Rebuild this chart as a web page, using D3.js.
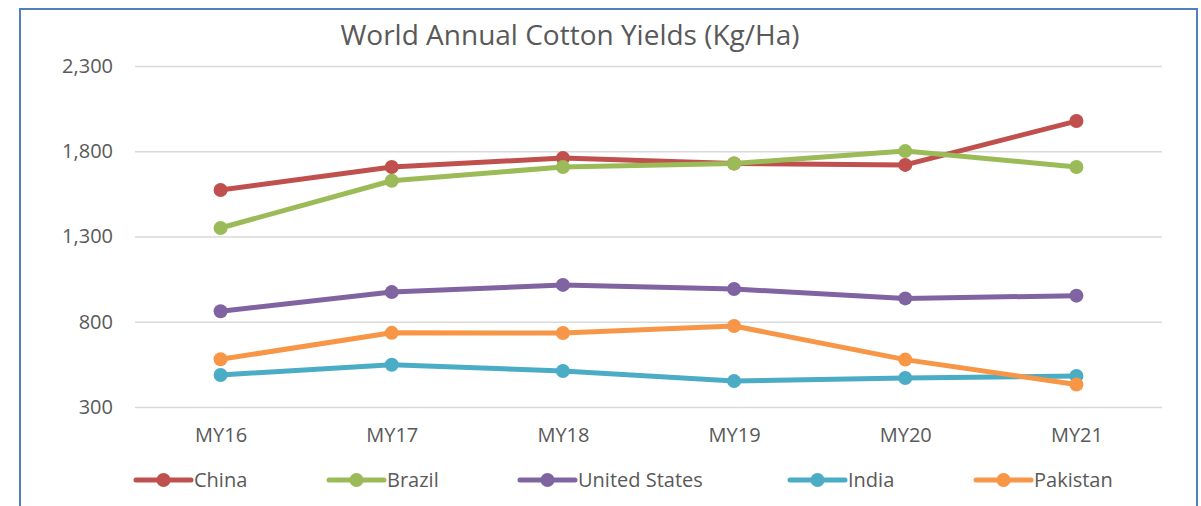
<!DOCTYPE html>
<html>
<head>
<meta charset="utf-8">
<script src="https://cdn.jsdelivr.net/npm/d3@7"></script>
<style>
  html, body { margin: 0; padding: 0; background: #fff; }
  svg { display: block; font-family: "Open Sans", "Noto Sans", sans-serif; }
</style>
</head>
<body>
<svg id="chart" width="1201" height="506"></svg>
<script>
// Marketing years on the x axis
const years = ["MY16", "MY17", "MY18", "MY19", "MY20", "MY21"];

// Cotton yield per country, kg per hectare
const china    = [1573, 1708, 1760, 1728, 1720, 1977];
const brazil   = [1350, 1627, 1708, 1728, 1801, 1708];
const usa      = [ 862,  974, 1016,  992,  937,  953];
const india    = [ 488,  548,  511,  452,  470,  482];
const pakistan = [ 580,  735,  734,  775,  578,  432];

const seriesNames  = ["China", "Brazil", "United States", "India", "Pakistan"];
const seriesColors = ["#C0504D", "#9BBB59", "#8064A2", "#4BACC6", "#F79646"];
const seriesValues = [china, brazil, usa, india, pakistan];

const yTicks = [300, 800, 1300, 1800, 2300];

const svg = d3.select("#chart");

// Chart frame
svg.append("rect")
  .attr("x", 20).attr("y", 9)
  .attr("width", 1177).attr("height", 520)
  .attr("fill", "none")
  .attr("stroke", "#4F81BD")
  .attr("stroke-width", 2);

const plot = { left: 135, right: 1162, top: 66, bottom: 407 };

const x = d3.scalePoint()
  .domain(years)
  .range([plot.left, plot.right])
  .padding(0.5);

const y = d3.scaleLinear()
  .domain([300, 2300])
  .range([plot.bottom, plot.top]);

// Title
svg.append("text")
  .attr("x", 570).attr("y", 45)
  .attr("text-anchor", "middle")
  .attr("fill", "#595959")
  .attr("font-size", 28)
  .text("World Annual Cotton Yields (Kg/Ha)");

// Horizontal gridlines
const yAxis = d3.axisLeft(y)
  .tickValues(yTicks)
  .tickFormat(d3.format(","))
  .tickSize(-(plot.right - plot.left))
  .tickPadding(22);

const gy = svg.append("g")
  .attr("transform", `translate(${plot.left},0)`)
  .call(yAxis);
gy.select(".domain").remove();
gy.selectAll(".tick line").attr("stroke", "#D9D9D9").attr("stroke-width", 1.5);
gy.selectAll(".tick text")
  .attr("fill", "#595959")
  .attr("font-size", 20)
  .attr("font-family", "'Open Sans', sans-serif");

// Category labels
const xAxis = d3.axisBottom(x).tickSize(0).tickPadding(21);
const gx = svg.append("g")
  .attr("transform", `translate(0,${plot.bottom})`)
  .call(xAxis);
gx.select(".domain").remove();
gx.selectAll(".tick text")
  .attr("fill", "#595959")
  .attr("font-size", 20)
  .attr("font-family", "'Open Sans', sans-serif");

// Lines and markers
const line = d3.line()
  .x((d, i) => x(years[i]))
  .y(d => y(d));

seriesValues.forEach((vals, si) => {
  const g = svg.append("g");
  g.append("path")
    .datum(vals)
    .attr("d", line)
    .attr("fill", "none")
    .attr("stroke", seriesColors[si])
    .attr("stroke-width", 5)
    .attr("stroke-linejoin", "round")
    .attr("stroke-linecap", "round");
  g.selectAll("circle")
    .data(vals)
    .join("circle")
    .attr("cx", (d, i) => x(years[i]))
    .attr("cy", d => y(d))
    .attr("r", 7)
    .attr("fill", seriesColors[si]);
});

// Legend
const legendX = [136, 329, 520, 790, 976];
const legendY = 480;
const legend = svg.append("g");
seriesNames.forEach((name, i) => {
  const g = legend.append("g").attr("transform", `translate(${legendX[i]},${legendY})`);
  g.append("line")
    .attr("x1", 0).attr("x2", 55)
    .attr("y1", 0).attr("y2", 0)
    .attr("stroke", seriesColors[i])
    .attr("stroke-width", 5)
    .attr("stroke-linecap", "round");
  g.append("circle")
    .attr("cx", 27.5).attr("cy", 0).attr("r", 7)
    .attr("fill", seriesColors[i]);
  g.append("text")
    .attr("x", 58).attr("y", 0)
    .attr("dy", "0.35em")
    .attr("fill", "#595959")
    .attr("font-size", 20)
    .text(name);
});
</script>
</body>
</html>
